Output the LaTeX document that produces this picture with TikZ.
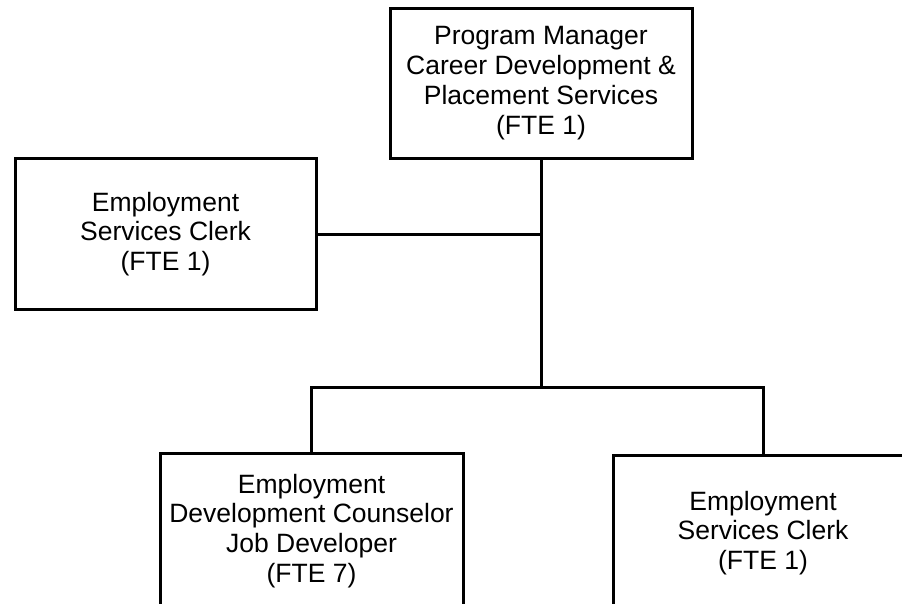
\documentclass[tikz,border=0pt]{standalone}
\usepackage{fontspec}
\setmainfont{Liberation Sans}
\begin{document}
\begin{tikzpicture}[x=1pt,y=-1pt,
  box/.style={draw=black,line width=3pt,rectangle,inner sep=0pt,align=center,
    font=\fontsize{26.5}{29.8}\selectfont},
  link/.style={draw=black,line width=3pt}]
\useasboundingbox (0,0) rectangle (902,603);
\clip (0,0) rectangle (902,603);
\fill[white] (0,0) rectangle (902,603);
\node[box,minimum width=302pt,minimum height=150pt] (top) at (541,83)
  {Program Manager\\Career Development \&\\Placement Services\\(FTE 1)};
\node[box,minimum width=301pt,minimum height=151pt] (lbox) at (165.5,234)
  {Employment\\Services Clerk\\(FTE 1)};
\node[box,minimum width=303pt,minimum height=156pt] (bl) at (311.5,531)
  {Employment\\Development Counselor\\Job Developer\\(FTE 7)};
\node[box,minimum width=300pt,minimum height=156pt] (br) at (763,533)
  {Employment\\Services Clerk\\(FTE 1)};
\coordinate (bar) at (541,387);
\draw[link] (top.south) -- (bar);
\draw[link] (lbox.east) -- (lbox.east -| top.south);
\draw[link] (bl.north) -- (bl.north |- bar) -- (br.north |- bar) -- (br.north);
\end{tikzpicture}
\end{document}
